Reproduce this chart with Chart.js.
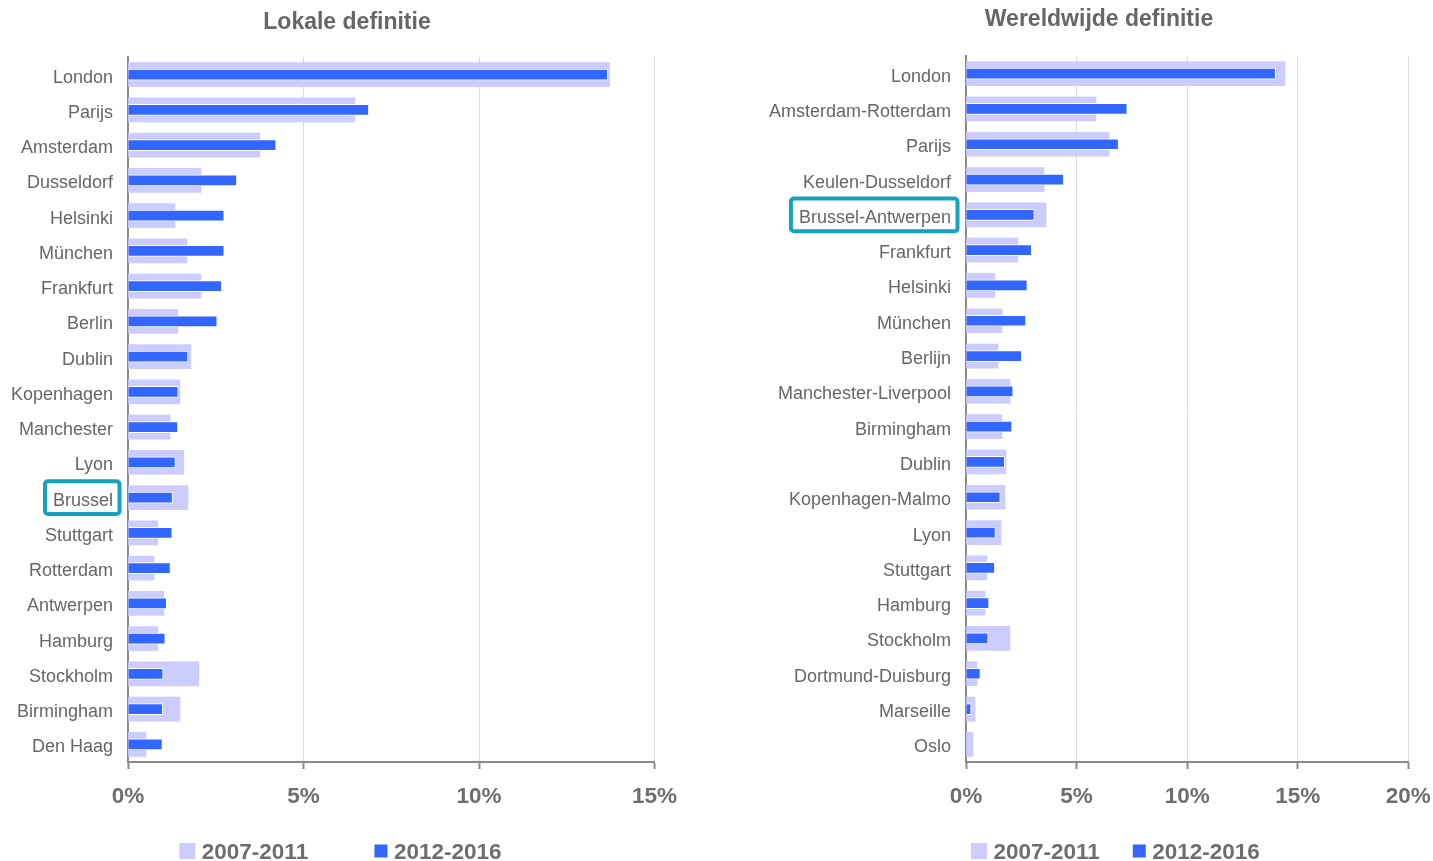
<!DOCTYPE html>
<html>
<head>
<meta charset="utf-8">
<title>Groei per stad: lokale en wereldwijde definitie</title>
<script src="https://cdn.jsdelivr.net/npm/chart.js@4.4.1/dist/chart.umd.min.js"></script>
<style>
  html, body { margin: 0; padding: 0; background: #ffffff; overflow: hidden; width: 1433px; height: 861px; }
  canvas { position: absolute; top: 0; }
  #lokaal { left: 0; }
  #wereld { left: 765px; }
</style>
</head>
<body>
<canvas id="lokaal" width="694" height="861"></canvas>
<canvas id="wereld" width="668" height="861"></canvas>
<script>
// Periods shown in both panels
const periodLabels = ['2007-2011', '2012-2016'];

// Panel 1: cities by local definition (values in %)
const lokaleSteden = ['London', 'Parijs', 'Amsterdam', 'Dusseldorf', 'Helsinki', 'München', 'Frankfurt',
  'Berlin', 'Dublin', 'Kopenhagen', 'Manchester', 'Lyon', 'Brussel', 'Stuttgart', 'Rotterdam',
  'Antwerpen', 'Hamburg', 'Stockholm', 'Birmingham', 'Den Haag'];
const lokaal2007 = [13.72, 6.46, 3.76, 2.08, 1.34, 1.68, 2.08, 1.42, 1.79, 1.48, 1.20, 1.59, 1.71,
  0.85, 0.74, 1.02, 0.85, 2.02, 1.48, 0.51];
const lokaal2012 = [13.67, 6.86, 4.22, 3.10, 2.74, 2.74, 2.67, 2.54, 1.71, 1.43, 1.42, 1.35, 1.27,
  1.26, 1.21, 1.10, 1.06, 1.00, 0.99, 0.98];

// Panel 2: metropolitan areas by worldwide definition (values in %)
const wereldSteden = ['London', 'Amsterdam-Rotterdam', 'Parijs', 'Keulen-Dusseldorf', 'Brussel-Antwerpen',
  'Frankfurt', 'Helsinki', 'München', 'Berlijn', 'Manchester-Liverpool', 'Birmingham', 'Dublin',
  'Kopenhagen-Malmo', 'Lyon', 'Stuttgart', 'Hamburg', 'Stockholm', 'Dortmund-Duisburg', 'Marseille', 'Oslo'];
const wereld2007 = [14.43, 5.88, 6.47, 3.53, 3.62, 2.35, 1.31, 1.63, 1.45, 1.99, 1.63, 1.81, 1.76,
  1.58, 0.95, 0.86, 1.99, 0.50, 0.41, 0.32];
const wereld2012 = [14.00, 7.29, 6.90, 4.42, 3.09, 2.97, 2.77, 2.71, 2.52, 2.13, 2.08, 1.75, 1.55,
  1.33, 1.30, 1.04, 1.00, 0.65, 0.23, 0];

// Axis ticks (percent)
const lokaalTicks = [0, 5, 10, 15];
const wereldTicks = [0, 5, 10, 15, 20];

const FONT = '"Liberation Sans", Arial, Helvetica, sans-serif';
const LIGHT = '#ccccff';
const BLUE = '#3366ff';
const TEXT = '#666666';
const TICKTEXT = '#6e6e6e';
const AXIS = '#8a8a8a';
const GRID = '#dadada';
const TEAL = '#14a2bf';

// Rounded frame around one category label of the y axis
const labelFrame = {
  id: 'labelFrame',
  afterDraw(chart, args, opts) {
    if (!opts || !opts.label) return;
    const y = chart.scales.y;
    const idx = chart.data.labels.indexOf(opts.label);
    if (idx < 0) return;
    const ctx = chart.ctx;
    ctx.save();
    ctx.font = '18px ' + FONT;
    const w = ctx.measureText(opts.label).width;
    const textRight = y.right - 15;
    const cy = y.getPixelForValue(idx);
    const left = textRight - w - 8;
    const right = y.right - 8.5;
    const top = cy - 16.3, bottom = cy + 16.3;
    ctx.strokeStyle = TEAL;
    ctx.lineWidth = 4;
    ctx.beginPath();
    ctx.roundRect(left, top, right - left, bottom - top, 3);
    ctx.stroke();
    ctx.restore();
  }
};

// Legend row under the axis: one square per dataset followed by its period label
const periodLegend = {
  id: 'periodLegend',
  afterDraw(chart, args, opts) {
    const ctx = chart.ctx;
    ctx.save();
    ctx.font = 'bold 22.5px ' + FONT;
    ctx.textBaseline = 'alphabetic';
    ctx.textAlign = 'left';
    let x = opts.x;
    chart.data.datasets.forEach((ds, i) => {
      const size = opts.boxSizes[i];
      ctx.fillStyle = ds.backgroundColor;
      ctx.fillRect(x, opts.centerY - size / 2, size, size);
      x += size + opts.textGap;
      ctx.fillStyle = TICKTEXT;
      ctx.fillText(ds.label, x, opts.baseline);
      x += ctx.measureText(ds.label).width + opts.itemGap;
    });
    ctx.restore();
  }
};

function buildChart(id, o) {
  const tickSet = o.ticks;
  return new Chart(document.getElementById(id), {
    type: 'bar',
    data: {
      labels: o.labels,
      datasets: [
        { label: periodLabels[0], data: o.early, backgroundColor: LIGHT, borderWidth: 0,
          barThickness: 24, grouped: false, order: 1 },
        { label: periodLabels[1], data: o.late, backgroundColor: BLUE, borderColor: '#ffffff',
          borderWidth: 1, barThickness: 11, grouped: false, order: 0 }
      ]
    },
    options: {
      indexAxis: 'y',
      responsive: false,
      animation: false,
      devicePixelRatio: 1,
      layout: { padding: 0 },
      scales: {
        x: {
          type: 'linear',
          min: tickSet[0],
          max: tickSet[tickSet.length - 1],
          afterBuildTicks(s) { s.ticks = tickSet.map(v => ({ value: v })); },
          ticks: {
            callback: v => v + '%',
            font: { family: FONT, size: 22.5, weight: 'bold' },
            color: TICKTEXT,
            padding: 14,
            maxRotation: 0
          },
          grid: { color: GRID, lineWidth: 1, drawTicks: true, tickLength: 7, tickColor: AXIS, tickWidth: 2 },
          border: { display: true, color: AXIS, width: 2 },
          afterFit(s) { s.height = 99; s.paddingRight = o.rightGap; }
        },
        y: {
          type: 'category',
          ticks: { font: { family: FONT, size: 18 }, color: TEXT, padding: 15, autoSkip: false, labelOffset: 3 },
          grid: { display: false, drawTicks: false },
          border: { display: true, color: AXIS, width: 2 },
          afterFit(s) { s.width = o.yWidth; }
        }
      },
      plugins: {
        title: {
          display: true,
          text: o.title,
          font: { family: FONT, size: 23, weight: 'bold' },
          color: TEXT,
          padding: { top: o.titleTop, bottom: o.titleBottom }
        },
        legend: { display: false },
        tooltip: { enabled: false },
        labelFrame: { label: o.frame },
        periodLegend: { x: o.legendX, itemGap: o.legendGap, textGap: 6.5, boxSizes: [16, 13], centerY: 851, baseline: 859 }
      }
    },
    plugins: [labelFrame, periodLegend]
  });
}

buildChart('lokaal', {
  labels: lokaleSteden, early: lokaal2007, late: lokaal2012, ticks: lokaalTicks,
  title: 'Lokale definitie', frame: 'Brussel',
  yWidth: 128, rightGap: 39.5,
  titleTop: 8.7, titleBottom: 20.7,
  legendX: 179.3, legendGap: 66.3
});

buildChart('wereld', {
  labels: wereldSteden, early: wereld2007, late: wereld2012, ticks: wereldTicks,
  title: 'Wereldwijde definitie', frame: 'Brussel-Antwerpen',
  yWidth: 201, rightGap: 24.7,
  titleTop: 6.2, titleBottom: 22.2,
  legendX: 206, legendGap: 32.9
});
</script>
</body>
</html>
